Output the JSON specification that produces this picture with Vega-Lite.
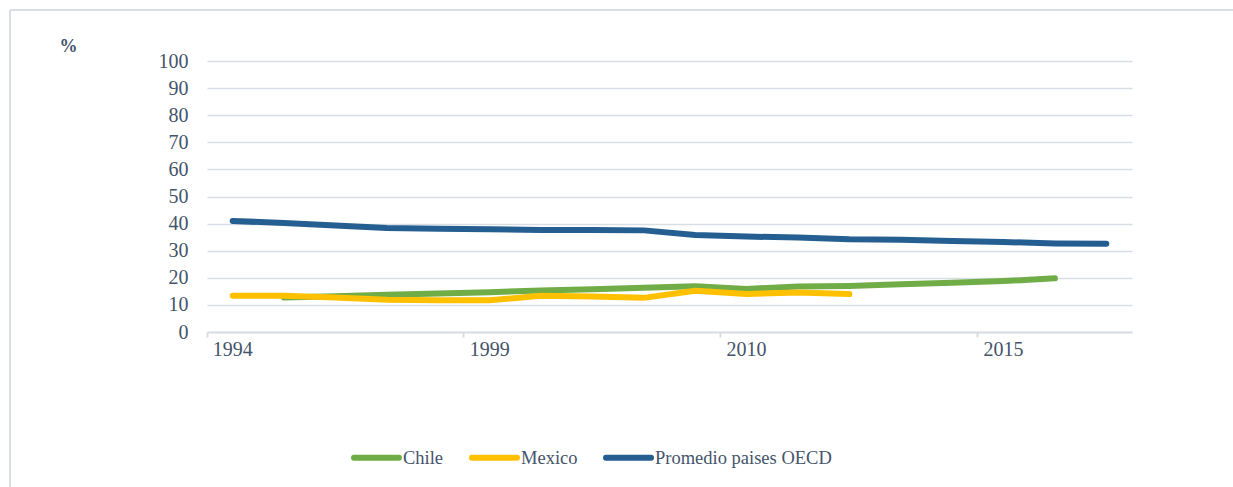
{
  "$schema": "https://vega.github.io/schema/vega-lite/v6.json",
  "width": 1223,
  "height": 477,
  "autosize": {"type": "none"},
  "padding": {"left": 10, "top": 10, "right": 0, "bottom": 0},
  "background": "white",
  "config": {
    "view": {"stroke": "#D9DEE5", "strokeWidth": 2, "strokeDash": [1223, 1700, 477, 0]},
    "font": "Liberation Serif",
    "axis": {"labelFont": "Liberation Serif", "titleFont": "Liberation Serif"},
    "legend": {"labelFont": "Liberation Serif", "titleFont": "Liberation Serif"}
  },
  "data": {
    "values": [
      {"year": "1994", "series": "Promedio paises OECD", "value": 41.0},
      {"year": "1995", "series": "Promedio paises OECD", "value": 40.2},
      {"year": "1996", "series": "Promedio paises OECD", "value": 39.3},
      {"year": "1997", "series": "Promedio paises OECD", "value": 38.4},
      {"year": "1998", "series": "Promedio paises OECD", "value": 38.1},
      {"year": "1999", "series": "Promedio paises OECD", "value": 37.9},
      {"year": "2000", "series": "Promedio paises OECD", "value": 37.6},
      {"year": "2005", "series": "Promedio paises OECD", "value": 37.6},
      {"year": "2007", "series": "Promedio paises OECD", "value": 37.5},
      {"year": "2009", "series": "Promedio paises OECD", "value": 35.8},
      {"year": "2010", "series": "Promedio paises OECD", "value": 35.2},
      {"year": "2011", "series": "Promedio paises OECD", "value": 34.9},
      {"year": "2012", "series": "Promedio paises OECD", "value": 34.2},
      {"year": "2013", "series": "Promedio paises OECD", "value": 34.0},
      {"year": "2014", "series": "Promedio paises OECD", "value": 33.6},
      {"year": "2015", "series": "Promedio paises OECD", "value": 33.2},
      {"year": "2016", "series": "Promedio paises OECD", "value": 32.7},
      {"year": "2017", "series": "Promedio paises OECD", "value": 32.6},

      {"year": "1995", "series": "Chile", "value": 12.7},
      {"year": "1996", "series": "Chile", "value": 13.2},
      {"year": "1997", "series": "Chile", "value": 13.7},
      {"year": "1998", "series": "Chile", "value": 14.2},
      {"year": "1999", "series": "Chile", "value": 14.7},
      {"year": "2000", "series": "Chile", "value": 15.3},
      {"year": "2005", "series": "Chile", "value": 15.8},
      {"year": "2007", "series": "Chile", "value": 16.3},
      {"year": "2009", "series": "Chile", "value": 16.9},
      {"year": "2010", "series": "Chile", "value": 15.9},
      {"year": "2011", "series": "Chile", "value": 16.8},
      {"year": "2012", "series": "Chile", "value": 17.0},
      {"year": "2013", "series": "Chile", "value": 17.6},
      {"year": "2014", "series": "Chile", "value": 18.2},
      {"year": "2015", "series": "Chile", "value": 18.8},
      {"year": "2016", "series": "Chile", "value": 19.8},

      {"year": "1994", "series": "Mexico", "value": 13.4},
      {"year": "1995", "series": "Mexico", "value": 13.4},
      {"year": "1996", "series": "Mexico", "value": 12.7},
      {"year": "1997", "series": "Mexico", "value": 11.9},
      {"year": "1998", "series": "Mexico", "value": 11.7},
      {"year": "1999", "series": "Mexico", "value": 11.7},
      {"year": "2000", "series": "Mexico", "value": 13.4},
      {"year": "2005", "series": "Mexico", "value": 13.1},
      {"year": "2007", "series": "Mexico", "value": 12.6},
      {"year": "2009", "series": "Mexico", "value": 15.2},
      {"year": "2010", "series": "Mexico", "value": 14.0},
      {"year": "2011", "series": "Mexico", "value": 14.6},
      {"year": "2012", "series": "Mexico", "value": 14.0}
    ]
  },
  "mark": {"type": "line", "strokeWidth": 6, "strokeCap": "round", "strokeJoin": "round"},
  "encoding": {
    "x": {
      "field": "year",
      "type": "ordinal",
      "scale": {
        "type": "band",
        "domain": ["1994", "1995", "1996", "1997", "1998", "1999", "2000", "2005", "2007", "2009", "2010", "2011", "2012", "2013", "2014", "2015", "2016", "2017"],
        "range": [197, 1122],
        "paddingInner": 0,
        "paddingOuter": 0
      },
      "axis": {
        "title": null,
        "values": ["1994", "1999", "2010", "2015"],
        "bandPosition": 0,
        "labelDx": 25.7,
        "labelAngle": 0,
        "labelAlign": "center",
        "offset": -155,
        "grid": false,
        "domainColor": "#D9DEE5",
        "domainWidth": 2,
        "tickColor": "#D9DEE5",
        "tickWidth": 2,
        "tickSize": 5,
        "labelPadding": 2,
        "labelFont": "Liberation Serif",
        "labelFontSize": 20,
        "labelColor": "#44546A"
      }
    },
    "y": {
      "field": "value",
      "type": "quantitative",
      "scale": {"domain": [0, 100], "nice": false, "range": [322, 51]},
      "axis": {
        "values": [0, 10, 20, 30, 40, 50, 60, 70, 80, 90, 100],
        "offset": -197,
        "domain": false,
        "ticks": false,
        "labelPadding": 19,
        "labelFont": "Liberation Serif",
        "labelFontSize": 20,
        "labelColor": "#44546A",
        "grid": true,
        "gridColor": "#D9DEE5",
        "gridWidth": 1.6,
        "title": "%",
        "titleFont": "Liberation Serif",
        "titleAngle": 0,
        "titleX": -139,
        "titleY": 36,
        "titleFontSize": 18,
        "titleFontWeight": "bold",
        "titleColor": "#44546A",
        "titleAlign": "center",
        "titleBaseline": "middle"
      }
    },
    "color": {
      "field": "series",
      "type": "nominal",
      "scale": {
        "domain": ["Chile", "Mexico", "Promedio paises OECD"],
        "range": ["#70AD47", "#FFC000", "#255E91"]
      },
      "legend": {
        "title": null,
        "orient": "none",
        "legendX": 341,
        "legendY": 422,
        "direction": "horizontal",
        "padding": 0,
        "symbolType": "stroke",
        "symbolStrokeWidth": 6,
        "symbolSize": 2025,
        "labelOffset": 1,
        "columnPadding": 16,
        "labelFont": "Liberation Serif",
        "labelFontSize": 18.5,
        "labelColor": "#44546A",
        "labelLimit": 0,
        "encode": {"symbols": {"update": {"strokeCap": {"value": "round"}}}}
      }
    }
  }
}
